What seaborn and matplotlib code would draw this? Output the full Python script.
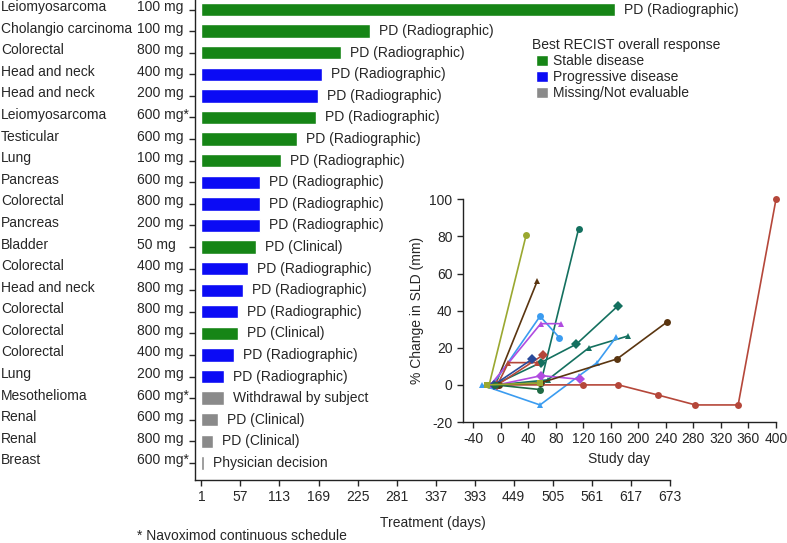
import matplotlib
matplotlib.use('Agg')
import matplotlib.pyplot as plt
import matplotlib.transforms as mtransforms
from matplotlib.patches import Patch
import numpy as np
import pandas as pd
import seaborn as sns

# swimmer rows, top to bottom
tumours = ['Leiomyosarcoma', 'Cholangio carcinoma', 'Colorectal', 'Head and neck', 'Head and neck',
           'Leiomyosarcoma', 'Testicular', 'Lung', 'Pancreas', 'Colorectal', 'Pancreas', 'Bladder',
           'Colorectal', 'Head and neck', 'Colorectal', 'Colorectal', 'Colorectal', 'Lung',
           'Mesothelioma', 'Renal', 'Renal', 'Breast']
doses = ['100 mg', '100 mg', '800 mg', '400 mg', '200 mg', '600 mg*', '600 mg', '100 mg', '600 mg',
         '800 mg', '200 mg', '50 mg', '400 mg', '800 mg', '800 mg', '800 mg', '400 mg', '200 mg',
         '600 mg*', '600 mg', '800 mg', '600 mg*']
responses = ['Stable disease'] * 3 + ['Progressive disease'] * 2 + ['Stable disease'] * 3 + \
            ['Progressive disease'] * 3 + ['Stable disease'] + ['Progressive disease'] * 3 + \
            ['Stable disease'] + ['Progressive disease'] * 2 + ['Missing/Not evaluable'] * 4
days = [595, 243, 201, 174, 168, 166, 138, 115, 85, 85, 85, 79, 68, 61, 54, 54, 48, 33, 33, 25, 17, 4]
reasons = ['PD (Radiographic)'] * 11 + ['PD (Clinical)'] + ['PD (Radiographic)'] * 3 + \
          ['PD (Clinical)'] + ['PD (Radiographic)'] * 2 + ['Withdrawal by subject'] + \
          ['PD (Clinical)'] * 2 + ['Physician decision']

resp_order = ['Stable disease', 'Progressive disease', 'Missing/Not evaluable']
resp_colors = ['#168516', '#0b0bf5', '#8a8a8a']
x_ticks = list(range(1, 674, 56))

# inset: % change in SLD per patient (study day, value, colour, marker)
sld_series = [
    ([-17, 37], [0, 81], '#9aa830', 'o'),
    ([-8, 53], [0, 56], '#5a3510', '^'),
    ([-5, 58, 113], [0, 1, 84], '#14705f', 'o'),
    ([-10, 58, 110, 170], [0, 12, 22, 42.5], '#14705f', 'D'),
    ([-5, 68, 128, 185], [0, 2.7, 20, 26.4], '#14705f', '^'),
    ([-12, 57, 85], [0, 37, 25.5], '#3b9cf0', 'o'),
    ([-28, 57, 114, 140, 168], [0, -10.8, 5, 12, 26], '#3b9cf0', '^'),
    ([-15, 58, 88], [0, 33, 33], '#b04ce0', '^'),
    ([-5, 59, 115], [0, 5, 3], '#b04ce0', 'D'),
    ([-8, 119, 171, 228, 283, 345, 400], [0, 0, 0, -5.4, -10.8, -10.8, 100], '#b5473a', 'o'),
    ([-5, 11, 52], [0, 12, 12], '#b5473a', '^'),
    ([-5, 61], [0, 16], '#b5473a', 'D'),
    ([-10, 46], [0, 14], '#2a4a9a', 'D'),
    ([-3, 57, 169, 242], [0, 1, 14, 34], '#5a3510', 'o'),
    ([-8, 57], [0, -2.5], '#1e6b45', 'o'),
    ([-20, 57], [0, 1], '#9aa830', 's'),
]

sns.set_style('ticks')
plt.rcParams['font.family'] = ['Liberation Sans', 'DejaVu Sans']
plt.rcParams['font.size'] = 10
plt.rcParams['axes.linewidth'] = 1.0
plt.rcParams['axes.edgecolor'] = '#222222'
plt.rcParams['axes.unicode_minus'] = False

fig = plt.figure(figsize=(7.87, 5.43), dpi=100)
ax = fig.add_axes([0.248, 0.116, 0.603, 0.884])

n = len(days)
df = pd.DataFrame({'row': [f'r{i}' for i in range(n)], 'days': days, 'response': responses})
sns.barplot(data=df, x='days', y='row', hue='response', order=list(df['row']), hue_order=resp_order,
            palette=resp_colors, dodge=False, width=0.62, orient='h', saturation=1,
            legend=False, ax=ax)

for i in range(n):
    ax.annotate(reasons[i], xy=(days[i], i), xytext=(6.5, 0), textcoords='offset points',
                va='center', ha='left')

# row labels sit a couple of pixels above the bar centre
trans = mtransforms.blended_transform_factory(fig.transFigure, ax.transData) + \
    mtransforms.ScaledTranslation(0, 2.5 / 100, fig.dpi_scale_trans)
for i in range(n):
    ax.text(0.001, i, tumours[i], transform=trans, va='center', ha='left')
    ax.text(137 / 787, i, doses[i], transform=trans, va='center', ha='left')

ax.set_yticks(range(n))
ax.set_yticklabels([''] * n)
ax.set_ylim(21.79, -0.44)
ax.set_xlim(-8, 673)
ax.set_xticks(x_ticks)
ax.set_ylabel('')
ax.set_xlabel('Treatment (days)', labelpad=8)
ax.tick_params(length=4, width=1)
sns.despine(ax=ax)

ax.legend(handles=[Patch(facecolor=c, label=l) for c, l in zip(resp_colors, resp_order)],
          loc='upper left', bbox_to_anchor=(536 / 787, 1 - 54 / 543),
          bbox_transform=fig.transFigure, frameon=False, handlelength=0.85, handleheight=0.85,
          handletextpad=0.4, labelspacing=0.15, borderaxespad=0, borderpad=0, fontsize=10)
fig.text(532 / 787, 1 - 45 / 543, 'Best RECIST overall response', va='center', ha='left')

fig.text(137 / 787, 1 - 536 / 543, '* Navoximod continuous schedule', va='center', ha='left')

# inset
ax2 = fig.add_axes([0.5883, 0.2228, 0.3977, 0.4101])
ax2.patch.set_alpha(0)
for xs, ys, c, m in sld_series:
    sns.lineplot(x=xs, y=ys, color=c, marker=m, markersize=5, markeredgewidth=0,
                 linewidth=1.2, sort=False, estimator=None, clip_on=False, ax=ax2)
ax2.set_xlim(-55, 400)
ax2.set_ylim(-20, 100)
ax2.set_xticks(range(-40, 401, 40))
ax2.set_yticks(range(-20, 101, 20))
ax2.set_xlabel('Study day')
ax2.set_ylabel('% Change in SLD (mm)')
ax2.tick_params(length=4, width=1)
sns.despine(ax=ax2)

fig.savefig('out.png', dpi=100)
